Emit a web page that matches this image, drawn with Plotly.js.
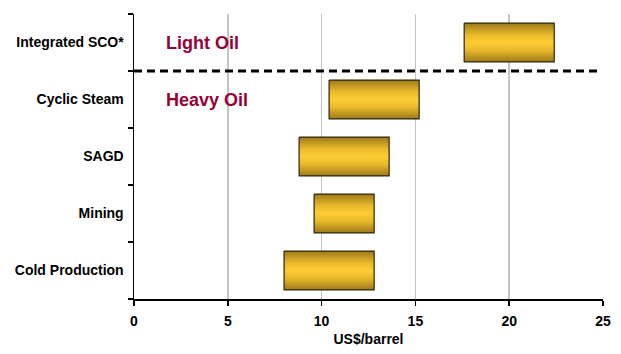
<!DOCTYPE html>
<html>
<head>
<meta charset="utf-8">
<script src="https://cdn.plot.ly/plotly-3.0.1.min.js"></script>
<style>html,body{margin:0;padding:0;background:#fff;}#chart{width:621px;height:354px;}</style>
</head>
<body>
<div id="chart"></div>
<script>
// Data
var categories = ["Integrated SCO*", "Cyclic Steam", "SAGD", "Mining", "Cold Production"];
var lowCost = [17.6, 10.4, 8.8, 9.6, 8.0];
var highCost = [22.4, 15.2, 13.6, 12.8, 12.8];
var xTicks = [0, 5, 10, 15, 20, 25];
var groupLabels = ["Light Oil", "Heavy Oil"];

var half = 0.34;
var FONT = "Arial, 'Liberation Sans', sans-serif";
var traces = categories.map(function (c, i) {
  return {
    type: "scatter",
    mode: "lines",
    x: [lowCost[i], highCost[i], highCost[i], lowCost[i], lowCost[i]],
    y: [i - half, i - half, i + half, i + half, i - half],
    fill: "toself",
    fillgradient: {
      type: "vertical",
      colorscale: [[0, "#9e7a1a"], [0.3, "#e8b92c"], [0.5, "#ffcc33"], [0.7, "#e8b92c"], [1, "#9e7a1a"]]
    },
    line: {color: "#2e2608", width: 1.2},
    name: c,
    hoverinfo: "text",
    text: c + ": " + lowCost[i] + "–" + highCost[i],
    showlegend: false
  };
});

var layout = {
  width: 621, height: 354,
  margin: {l: 134, r: 18, t: 14, b: 55},
  paper_bgcolor: "#fff", plot_bgcolor: "#fff",
  showlegend: false,
  xaxis: {
    range: [0, 25],
    tickvals: xTicks,
    ticktext: xTicks.map(String),
    showgrid: true, gridcolor: "#c4c4c4", gridwidth: 1.5,
    zeroline: false,
    showline: true, linecolor: "#000", linewidth: 1.5,
    ticks: "outside", ticklen: 5, tickcolor: "#000", tickwidth: 1.5,
    tickfont: {family: FONT, size: 14, color: "#000", weight: "bold"},
    ticklabelstandoff: 4,
    title: {text: "US$/barrel", font: {family: FONT, size: 14, color: "#000", weight: "bold"}, standoff: 6},
    fixedrange: true
  },
  yaxis: {
    range: [4.5, -0.5],
    tickvals: categories.map(function (c, i) { return i; }),
    ticktext: categories,
    ticks: "",
    minor: {tickvals: [-0.5, 0.5, 1.5, 2.5, 3.5, 4.5], ticks: "outside", ticklen: 5, tickcolor: "#000", tickwidth: 1.5, showgrid: false},
    showgrid: false, zeroline: false,
    showline: true, linecolor: "#000", linewidth: 1.5,
    tickfont: {family: FONT, size: 14, color: "#000", weight: "bold"},
    ticklabelstandoff: 6,
    fixedrange: true
  },
  shapes: [{
    type: "line", xref: "paper", yref: "y",
    x0: 0, x1: 0.996, y0: 0.5, y1: 0.5,
    line: {color: "#000", width: 3, dash: "8px,5px"}
  }],
  annotations: groupLabels.map(function (t, i) {
    return {
      text: t, xref: "x", yref: "y", x: 1.6, y: i,
      xanchor: "left", yanchor: "middle", showarrow: false,
      font: {family: FONT, size: 18, color: "#990033", weight: "bold"}
    };
  })
};

Plotly.newPlot("chart", traces, layout, {displayModeBar: false, staticPlot: true});
</script>
</body>
</html>
